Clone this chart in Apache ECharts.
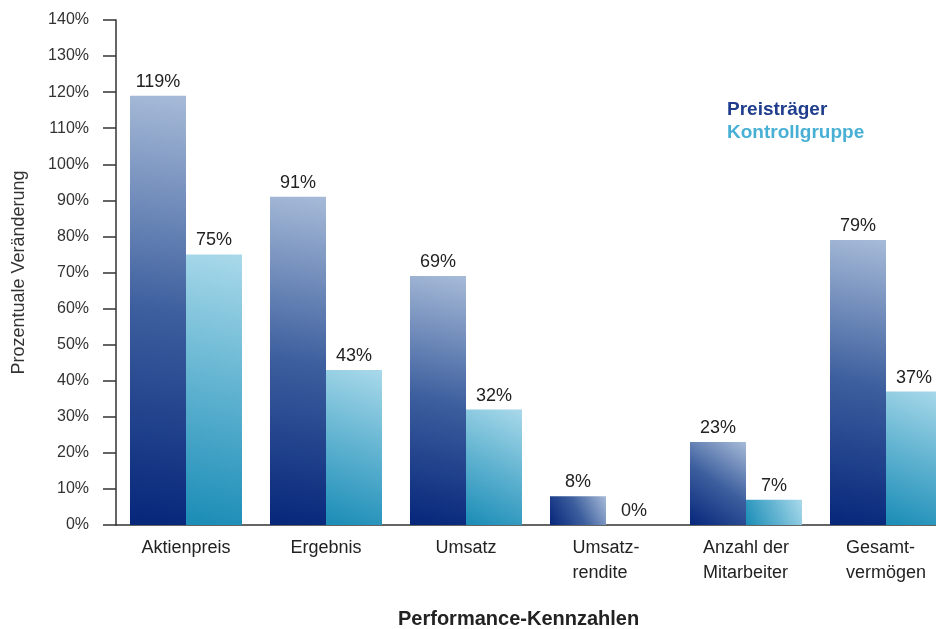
<!DOCTYPE html>
<html>
<head>
<meta charset="utf-8">
<script src="https://cdn.jsdelivr.net/npm/echarts@6/dist/echarts.min.js"></script>
<style>html,body{margin:0;padding:0;background:#fff;overflow:hidden}#c{width:956px;height:629px}</style>
</head>
<body>
<div id="c"></div>
<script>
var categories = ['Aktienpreis', 'Ergebnis', 'Umsatz', 'Umsatz-\nrendite', 'Anzahl der\nMitarbeiter', 'Gesamt-\nvermögen'];
var preistraeger = [119, 91, 69, 8, 23, 79];
var kontrollgruppe = [75, 43, 32, 0, 7, 37];
var seriesNames = ['Preisträger', 'Kontrollgruppe'];

var chart = echarts.init(document.getElementById('c'));
var font = 'Liberation Sans, Arial, sans-serif';
chart.setOption({
  animation: false,
  title: {
    text: 'Performance-Kennzahlen',
    left: 393, top: 604,
    textStyle: {fontFamily: font, fontSize: 20, fontWeight: 'bold', color: '#222'}
  },
  legend: {
    orient: 'vertical',
    left: 722, top: 95,
    itemWidth: 0, itemHeight: 0, itemGap: 4,
    selectedMode: false,
    data: [
      {name: seriesNames[0], textStyle: {color: '#1f3d8c'}},
      {name: seriesNames[1], textStyle: {color: '#48b0d4'}}
    ],
    textStyle: {fontFamily: font, fontSize: 19, fontWeight: 'bold', padding: [0,0,0,-5]}
  },
  grid: {left: 116, right: 0, top: 20, bottom: 104, containLabel: false},
  xAxis: {
    type: 'category',
    data: categories,
    axisLine: {lineStyle: {color: '#333', width: 1.5}},
    axisTick: {show: false},
    axisLabel: {fontFamily: font, fontSize: 18, color: '#222', margin: 11, lineHeight: 25, interval: 0, align: 'center',
      formatter: function (v) { return v.split('\n').map(function (s) { return '{a|' + s + '}'; }).join('\n'); },
      rich: {a: {fontFamily: font, fontSize: 18, color: '#222', lineHeight: 25, align: 'left'}}}
  },
  yAxis: {
    type: 'value',
    min: 0, max: 140, interval: 10,
    name: 'Prozentuale Veränderung',
    nameLocation: 'middle',
    nameGap: 88,
    nameTextStyle: {fontFamily: font, fontSize: 18, color: '#333'},
    axisLine: {show: true, lineStyle: {color: '#333', width: 1.5}},
    axisTick: {show: true, length: 13, lineStyle: {color: '#333', width: 1.5}},
    splitLine: {show: false},
    axisLabel: {fontFamily: font, fontSize: 16, color: '#333', margin: 27, formatter: '{value}%'}
  },
  series: [
    {
      name: seriesNames[0], type: 'bar', data: preistraeger,
      barGap: '0%', barCategoryGap: '20%',
      itemStyle: {color: new echarts.graphic.LinearGradient(0, 1, 1, 0, [
        {offset: 0, color: '#06267a'}, {offset: 0.5, color: '#3d5f9e'}, {offset: 1, color: '#a7bbd8'}])},
      label: {show: true, position: 'top', formatter: '{c}%', fontFamily: font, fontSize: 18, color: '#222', distance: 5}
    },
    {
      name: seriesNames[1], type: 'bar', data: kontrollgruppe,
      itemStyle: {color: new echarts.graphic.LinearGradient(0, 1, 1, 0, [
        {offset: 0, color: '#1a8cb6'}, {offset: 0.5, color: '#5fb2d0'}, {offset: 1, color: '#a9d9ea'}])},
      label: {show: true, position: 'top', formatter: '{c}%', fontFamily: font, fontSize: 18, color: '#222', distance: 5}
    }
  ]
});
</script>
</body>
</html>
